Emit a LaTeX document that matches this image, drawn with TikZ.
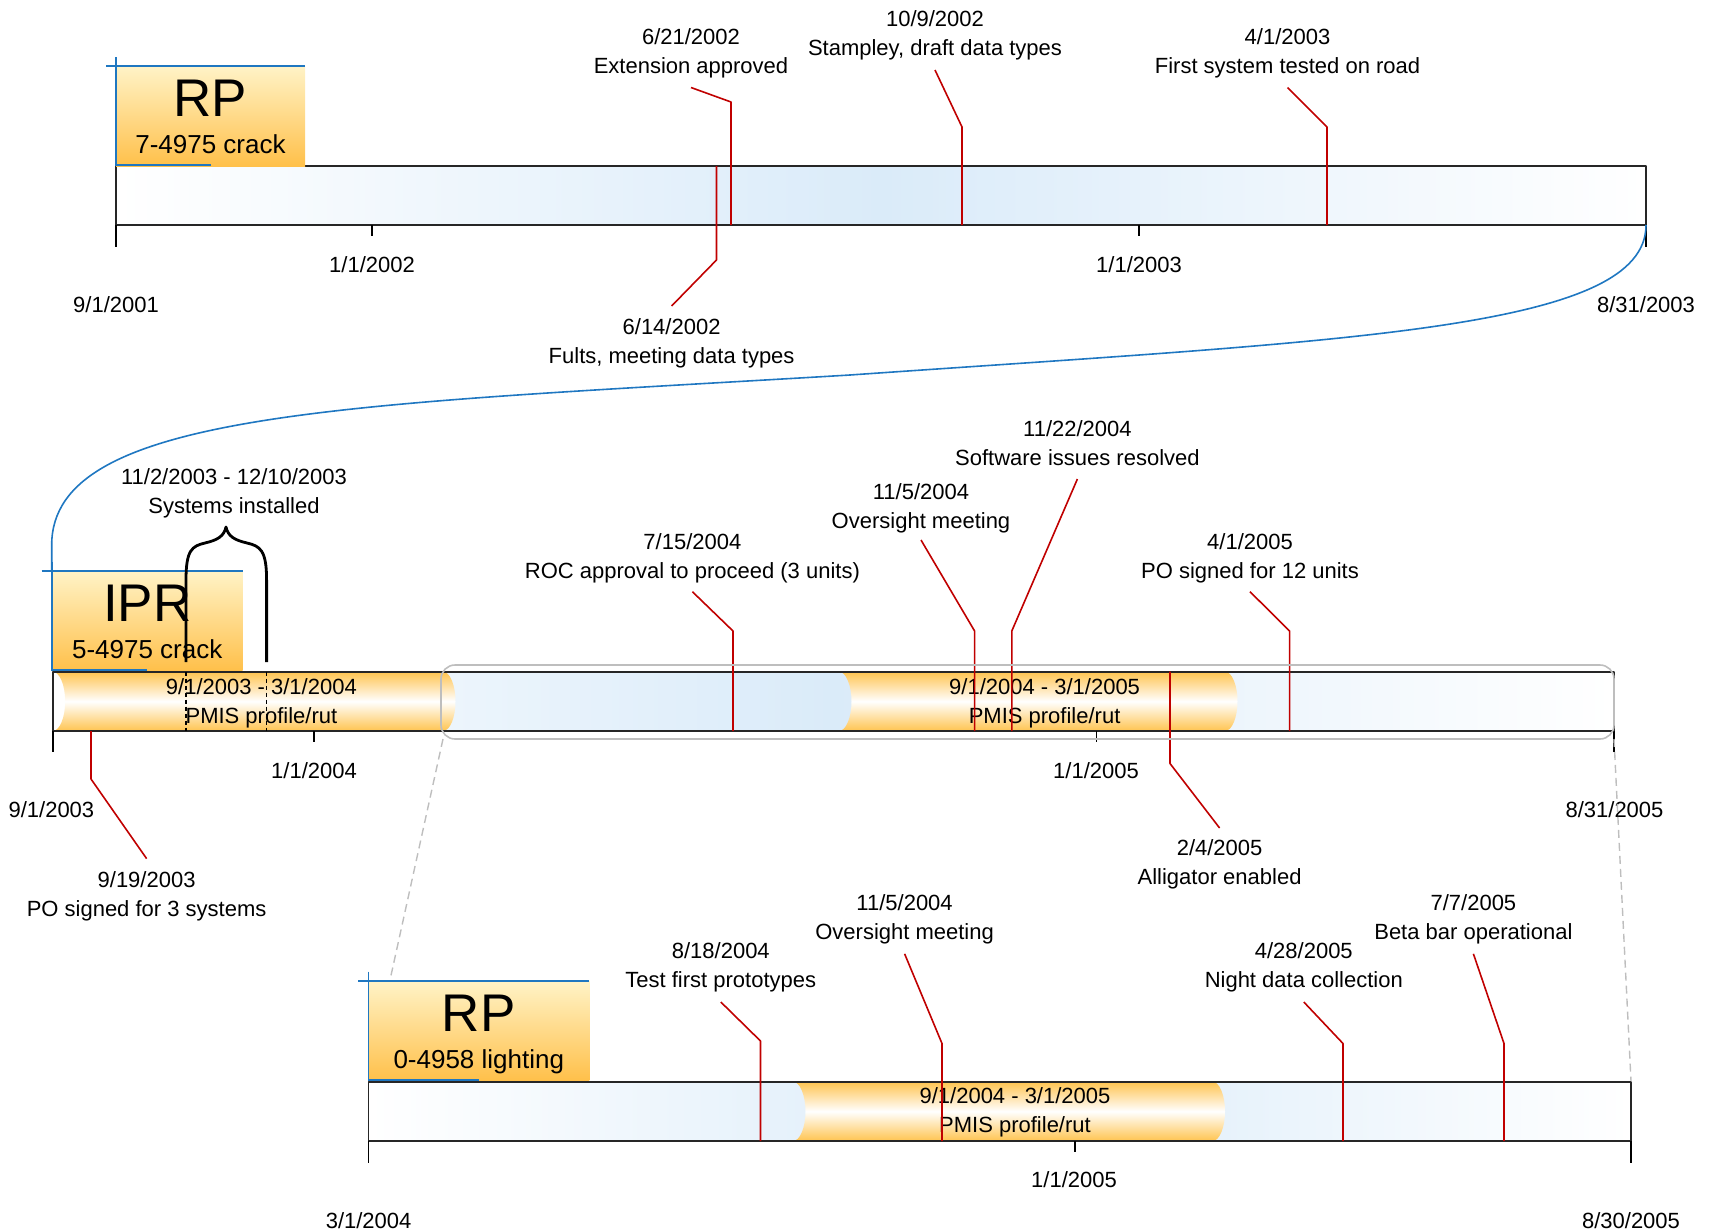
\documentclass[tikz,border=0pt]{standalone}
\usepackage{fontspec}
\setmainfont{Liberation Sans}
\definecolor{evred}{RGB}{192,0,0}
\definecolor{selblue}{RGB}{31,119,193}
\definecolor{barblue}{RGB}{218,235,249}
\definecolor{pmisorange}{RGB}{255,196,80}
\definecolor{boxtop}{RGB}{255,243,199}
\definecolor{boxbot}{RGB}{255,192,74}
\definecolor{zoomgray}{RGB}{190,190,190}
\begin{document}
\begin{tikzpicture}[x=0.5pt, y=-0.5pt, line join=round,
	font=\fontsize{11}{14.5}\selectfont,
	evline/.style={evred, line width=0.8pt},
	evlabel/.style={align=center, inner sep=0pt, yshift=-1.25pt},
	datelabel/.style={inner sep=0pt},
	tick/.style={line width=0.8pt},
	barfill/.style={left color=white, right color=white, middle color=barblue},
	baredge/.style={draw=black!85, line width=0.8pt},
	pmis/.style={top color=pmisorange, bottom color=pmisorange, middle color=white},
	titlebox/.style={top color=boxtop, bottom color=boxbot},
	bigtitle/.style={font=\fontsize{26.5}{30}\selectfont, inner sep=0pt},
	subtitle/.style={font=\fontsize{13}{15}\selectfont, inner sep=0pt},
	selline/.style={selblue, line width=0.8pt},
	zoomline/.style={zoomgray, line width=0.7pt, dash pattern=on 4pt off 2.5pt}]
	\useasboundingbox (0,0) rectangle (1715,1232);
	\foreach \xa/\xb/\yt/\yb in {116/1646/166/225, 52.7/1614/671.7/731, 368.3/1631/1081.7/1141}
	\shade[barfill] (\xa,\yt) rectangle (\xb,\yb);
	\foreach \xa/\xb/\yt/\yb in {52.7/443/671.7/731, 839/1225/671.7/731, 793/1212.5/1081.7/1141}
	\shade[pmis] (\xa,\yt) -- (\xb,\yt)
		.. controls ({\xb+7},\yt) and ({\xb+12.5},{(\yt+\yb)/2-16}) .. ({\xb+12.5},{(\yt+\yb)/2})
		.. controls ({\xb+12.5},{(\yt+\yb)/2+16}) and ({\xb+7},\yb) .. (\xb,\yb) -- (\xa,\yb)
		.. controls ({\xa+7},\yb) and ({\xa+12.5},{(\yt+\yb)/2+16}) .. ({\xa+12.5},{(\yt+\yb)/2})
		.. controls ({\xa+12.5},{(\yt+\yb)/2-16}) and ({\xa+7},\yt) .. (\xa,\yt) -- cycle;
	\foreach \xa/\xb/\yt/\yb in {116/1646/166/225, 52.7/1614/671.7/731, 368.3/1631/1081.7/1141}
	\draw[baredge] (\xa,\yt) rectangle (\xb,\yb);
	\foreach \x/\y/\l in {116/225/22, 372/225/11, 1139/225/11, 1646/225/22, 52.7/731/21, 314/731/11,
		1096.4/731/11, 1614/731/21, 368.3/1141/22, 1074.7/1141/11, 1631/1141/22}
	\draw[tick] (\x,\y) -- ++(0,\l);
	\foreach \x/\y/\dt [count=\i] in {116/305/{9/1/2001}, 372/265/{1/1/2002}, 1139/265/{1/1/2003},
		1646/305/{8/31/2003}, 51.4/809.4/{9/1/2003}, 314/771/{1/1/2004}, 1096/771/{1/1/2005},
		1614.5/809.4/{8/31/2005}, 368.6/1220.7/{3/1/2004}, 1074/1180/{1/1/2005}, 1631/1220.7/{8/30/2005}}
	\node[datelabel] (date\i) at (\x,\y) {\dt};
	\foreach \xa/\ya/\w/\ttl/\sub [count=\i] in {116/66/189/RP/{7-4975 crack},
		51.7/570.7/191/IPR/{5-4975 crack}, 368.3/980.7/221/RP/{0-4958 lighting}} {
		\shade[titlebox] (\xa,\ya) rectangle ++(\w,100);
		\node[bigtitle, anchor=base] (ttl\i) at ({\xa+\w/2},{\ya+50.7}) {\ttl};
		\node[subtitle, anchor=base] (sub\i) at ({\xa+\w/2},{\ya+87.5}) {\sub};
		\draw[selline] ({\xa-10},\ya) -- ({\xa+\w},\ya) (\xa,{\ya-9}) -- (\xa,{\ya+100})
			(\xa,{\ya+99}) -- ({\xa+\w/2},{\ya+99});
	}
	\node[evlabel] (pmis1) at (261.4,700.5) {\strut 9/1/2003 - 3/1/2004\\\strut PMIS profile/rut};
	\node[evlabel] (pmis2) at (1044.6,700.5) {\strut 9/1/2004 - 3/1/2005\\\strut PMIS profile/rut};
	\node[evlabel] (pmis3) at (1015,1110) {\strut 9/1/2004 - 3/1/2005\\\strut PMIS profile/rut};
	\foreach \bx/\by/\ky/\tx/\ty/\off/\dt/\txt [count=\i] in {
		731/225/102/691/87.5/-37/{6/21/2002}/{Extension approved},
		962/225/127/935/70/-37/{10/9/2002}/{Stampley, draft data types},
		1327/225/127/1287.5/87.5/-37/{4/1/2003}/{First system tested on road},
		716.5/166/260/671.6/306/35/{6/14/2002}/{Fults, meeting data types},
		91/731/779/146.6/858.6/35/{9/19/2003}/{PO signed for 3 systems},
		733/731/631/692.4/591.7/-36/{7/15/2004}/{ROC approval to proceed (3 units)},
		974.6/731/631/921/540/-34/{11/5/2004}/{Oversight meeting},
		1011.8/731/631/1077.4/479/-36/{11/22/2004}/{Software issues resolved},
		1170/671.7/763.5/1219.6/828/34/{2/4/2005}/{Alligator enabled},
		1289.6/731/631/1250/591.7/-36/{4/1/2005}/{PO signed for 12 units},
		760.5/1141/1041/720.8/1002/-37/{8/18/2004}/{Test first prototypes},
		942/1141/1043.5/904.6/953.8/-37/{11/5/2004}/{Oversight meeting},
		1343/1141/1043.5/1303.8/1002/-37/{4/28/2005}/{Night data collection},
		1504/1141/1043.5/1473.4/953.8/-37/{7/7/2005}/{Beta bar operational}} {
		\coordinate (bar\i) at (\bx,\by);
		\coordinate (bend\i) at (\bx,\ky);
		\coordinate (tip\i) at (\tx,\ty);
		\node[evlabel] (ev\i) at (\tx,{\ty+\off}) {\strut\dt\\\strut\txt};
		\draw[evline] (bar\i) -- (bend\i) -- (tip\i);
	}
	\coordinate (inst1) at (186,662);
	\coordinate (inst2) at (266.6,662);
	\node[evlabel] (inst) at (234,491) {\strut 11/2/2003 - 12/10/2003\\\strut Systems installed};
	\draw[line width=1.4pt] (inst1) -- (186,580) .. controls (186,550) and (192,546) .. (205,543)
		.. controls (218,540) and (224,536) .. (226,527) .. controls (228,536) and (234,540) .. (247,543)
		.. controls (260,546) and (266.6,550) .. (266.6,580) -- (inst2);
	\draw[line width=0.6pt, dash pattern=on 2pt off 1.5pt] (186,671.7) -- (186,731) (266.6,671.7) -- (266.6,731);
	\draw[zoomgray, line width=0.8pt, rounded corners=7pt] (441,665) rectangle (1614,739);
	\coordinate (zl1) at (443,739);
	\coordinate (zl2) at (390,980);
	\coordinate (zr1) at (1614,739);
	\coordinate (zr2) at (1631,1081);
	\draw[zoomline] (zl1) -- (zl2) (zr1) -- (zr2);
	\coordinate (cvA) at (1646,225);
	\coordinate (cvB) at (51.7,570.7);
	\draw[selline] (cvA) .. controls (1646,330) and (1350,340) .. (850,375)
		.. controls (350,405) and (51.7,410) .. (51.7,545) -- (cvB);
\end{tikzpicture}
\end{document}
